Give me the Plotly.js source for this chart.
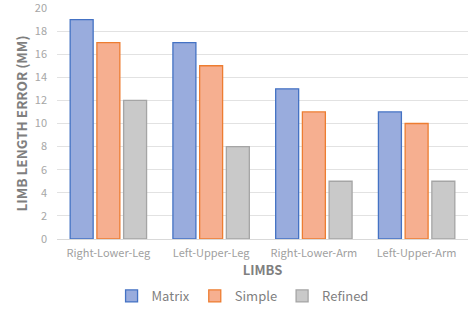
<!DOCTYPE html>
<html><head><meta charset="utf-8">
<script src="https://cdn.plot.ly/plotly-3.0.1.min.js"></script>
<style>html,body{margin:0;padding:0;background:#fff}#chart{width:471px;height:311px}</style>
</head><body><div id="chart"></div>
<script>
const categories = ["Right-Lower-Leg", "Left-Upper-Leg", "Right-Lower-Arm", "Left-Upper-Arm"];
const matrixValues = [19, 17, 13, 11];
const simpleValues = [17, 15, 11, 10];
const refinedValues = [12, 8, 5, 5];
const yTicks = [0, 2, 4, 6, 8, 10, 12, 14, 16, 18, 20];

const font = "'Noto Sans CJK SC', 'Noto Sans', sans-serif";
function bar(name, y, fill, line) {
  return {type: "bar", name: name, x: categories, y: y,
    marker: {color: fill, line: {color: line, width: 1.3}}, hoverinfo: "skip"};
}
const data = [
  bar("Matrix", matrixValues, "#99ACDD", "#4472C4"),
  bar("Simple", simpleValues, "#F6AF90", "#ED7D31"),
  bar("Refined", refinedValues, "#C9C9C9", "#A5A5A5")
];
const layout = {
  width: 471, height: 311,
  margin: {l: 57, r: 3, t: 8, b: 72, autoexpand: false},
  paper_bgcolor: "#fff", plot_bgcolor: "#fff",
  barmode: "group", bargap: 0.22, bargroupgap: 0.14,
  font: {family: font, color: "#A6A6A6", size: 11},
  xaxis: {
    showgrid: false, showline: true, linecolor: "#D9D9D9", linewidth: 1,
    ticks: "", tickfont: {size: 11, color: "#A0A0A0"}, ticklabelstandoff: 4,
    title: {text: "<b>LIMBS</b>", font: {size: 13, color: "#7F7F7F"}, standoff: 6}
  },
  yaxis: {
    range: [0, 20], tickvals: yTicks, ticktext: yTicks.map(String),
    ticklabeloverflow: "allow", ticklabelstandoff: 9,
    showgrid: true, gridcolor: "#E2E2E2", gridwidth: 1, zeroline: false,
    showline: false, ticks: "", tickfont: {size: 11, color: "#A6A6A6"},
    title: {text: "<b>LIMB LENGTH ERROR (MM)</b>", font: {size: 13.5, color: "#7F7F7F"}, standoff: 4}
  },
  legend: {orientation: "h", x: 0.515, xanchor: "center", xref: "container",
    y: -0.008, yanchor: "bottom", yref: "container",
    font: {size: 13, color: "#7F7F7F"}, itemwidth: 30, traceorder: "normal"},
  showlegend: true
};
Plotly.newPlot("chart", data, layout, {displayModeBar: false, staticPlot: true});
</script></body></html>
